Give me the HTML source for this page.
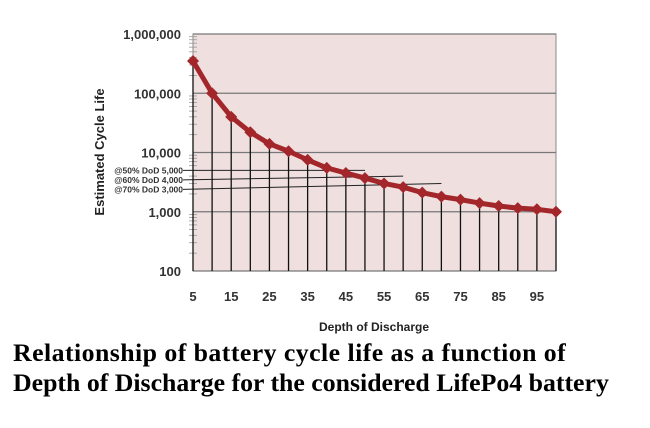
<!DOCTYPE html>
<html><head><meta charset="utf-8"><style>
body{margin:0;width:650px;height:428px;background:#fff;overflow:hidden}
svg{position:absolute;left:0;top:0}
.cap{position:absolute;left:13px;top:338px;font:bold 25.8px "Liberation Serif",serif;line-height:30px;color:#000;white-space:nowrap;letter-spacing:0}
.l1{letter-spacing:0.45px}
</style></head><body>
<svg id="chart" width="650" height="340"></svg>
<div class="cap"><span class="l1">Relationship of battery cycle life as a function of</span><br>Depth of Discharge for the considered LifePo4 battery</div>
<script>
const dod=[5,10,15,20,25,30,35,40,45,50,55,60,65,70,75,80,85,90,95,100];
const cycles=[350000,100000,40000,22000,14000,10500,7500,5500,4500,3700,3000,2600,2100,1800,1600,1400,1250,1150,1100,1000];
const yTicks=[100,1000,10000,100000,1000000];
const yTickLabels=["100","1,000","10,000","100,000","1,000,000"];
const xTicks=[5,15,25,35,45,55,65,75,85,95];
const refDod=[50,60,70];
const refCycles=[5000,4000,3000];
const refLabels=["@50% DoD 5,000","@60% DoD 4,000","@70% DoD 3,000"];
const NS="http://www.w3.org/2000/svg";
const svg=document.getElementById('chart');
const X0=193,X1=556,Y0=271,Y1=34;
const xs=v=>X0+(v-5)/95*(X1-X0);
const ys=v=>Y0-(Math.log10(v)-2)/4*(Y0-Y1);
function el(t,a,txt){const e=document.createElementNS(NS,t);for(const k in a)e.setAttribute(k,a[k]);if(txt!=null)e.textContent=txt;svg.appendChild(e);return e;}
let e;
e=el('rect',{x:X0,y:Y1,width:X1-X0,height:Y0-Y1,fill:'#efdfdf',stroke:'#888','stroke-width':1});

yTicks.forEach((t,i)=>{
 e=el('line',{x1:X0,x2:X1,y1:ys(t),y2:ys(t),stroke:'#777','stroke-width':1.2});
 
 e=el('text',{x:X0-12,y:ys(t)+5,'text-anchor':'end','font-family':'Liberation Sans, sans-serif','font-size':13,'font-weight':'bold',fill:'#333'},yTickLabels[i]);
 
 for(let m=2;m<=9&&t<1000000;m++){
  e=el('line',{x1:X0-4,x2:X0+4,y1:ys(t*m),y2:ys(t*m),stroke:'#999','stroke-width':0.8});
  
 }
});
xTicks.forEach(t=>{
 e=el('text',{x:xs(t),y:Y0+30,'text-anchor':'middle','font-family':'Liberation Sans, sans-serif','font-size':13,'font-weight':'bold',fill:'#333'},String(t));
 
});
refDod.forEach((d,i)=>{
 const ly=ys(refCycles[0])+i*9.5;
 e=el('line',{x1:X0-10,x2:xs(d),y1:ly,y2:ys(refCycles[i]),stroke:'#222','stroke-width':1});
 
 e=el('text',{x:X0-10,y:ly+3,'text-anchor':'end','font-family':'Liberation Sans, sans-serif','font-size':8.5,'font-weight':'bold',fill:'#333'},refLabels[i]);
 
});
dod.forEach((d,i)=>{
 e=el('line',{x1:xs(d),x2:xs(d),y1:ys(cycles[i]),y2:Y0,stroke:'#111','stroke-width':1.3});
 
});
e=el('polyline',{points:dod.map((d,i)=>xs(d)+','+ys(cycles[i])).join(' '),fill:'none',stroke:'#a3262a','stroke-width':5,'stroke-linejoin':'round'});

dod.forEach((d,i)=>{
 const x=xs(d),y=ys(cycles[i]);
 e=el('polygon',{points:`${x},${y-6} ${x+6},${y} ${x},${y+6} ${x-6},${y}`,fill:'#a3262a'});
 
});
e=el('text',{x:0,y:0,transform:'translate(104,152) rotate(-90)','text-anchor':'middle','font-family':'Liberation Sans, sans-serif','font-size':13,'font-weight':'bold',fill:'#222'},'Estimated Cycle Life');

e=el('text',{x:374,y:331,'text-anchor':'middle','font-family':'Liberation Sans, sans-serif','font-size':12,'font-weight':'bold',fill:'#222'},'Depth of Discharge');

</script>
</body></html>
